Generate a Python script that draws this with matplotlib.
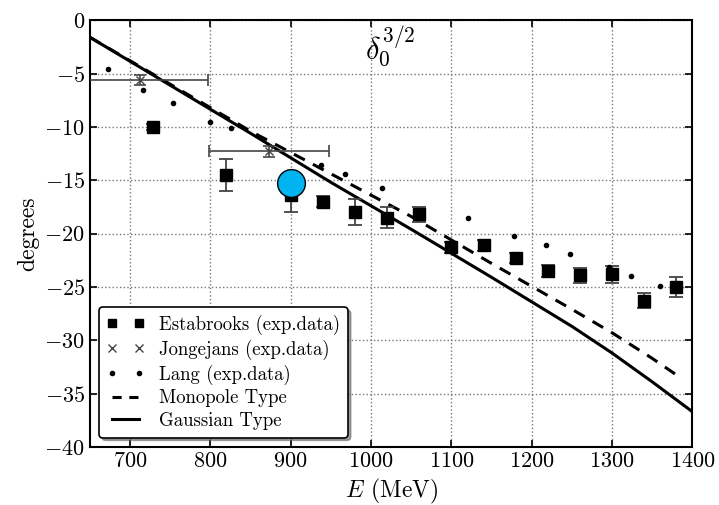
import numpy as np
import matplotlib
matplotlib.use("Agg")
from matplotlib import pyplot as plt
from matplotlib.lines import Line2D

# Estabrooks 数据点（能量 MeV，相移，误差）
est_e = [728, 820, 900, 940, 980, 1020, 1060, 1100, 1140, 1180, 1220, 1260, 1300, 1340, 1380]
est_d = [-10.0, -14.5, -16.4, -17.0, -18.0, -18.5, -18.2, -21.3, -21.1, -22.3, -23.5, -23.9, -23.8, -26.3, -25.0]
est_err = [0.3, 1.5, 1.6, 0.5, 1.2, 1.0, 0.7, 0.5, 0.5, 0.5, 0.6, 0.7, 0.8, 0.7, 0.9]

# Jongejans 数据点（带横向误差）
jon_e = [713, 873]
jon_d = [-5.6, -12.3]
jon_xerr = [84, 75]
jon_yerr = [0.5, 0.55]

# Lang 数据点
lang_e = [673, 716, 754, 800, 826, 938, 967, 1014, 1121, 1178, 1218, 1248, 1296, 1323, 1360]
lang_d = [-4.6, -6.5, -7.8, -9.5, -10.1, -13.6, -14.4, -15.7, -18.5, -20.2, -21.1, -21.9, -23.1, -24.0, -24.9]

# 理论曲线
mono_e = [650, 750, 850, 950, 1050, 1100, 1150, 1250, 1300, 1350, 1385]
mono_d = [-1.6, -6.0, -10.4, -14.4, -18.4, -20.6, -22.8, -27.1, -29.3, -31.7, -33.5]
gaus_e = [650, 750, 850, 950, 1050, 1150, 1250, 1300, 1350, 1400]
gaus_d = [-1.6, -6.1, -10.6, -15.2, -19.6, -24.1, -28.7, -31.2, -33.9, -36.7]

# 蓝色高亮点
hl_e = [900]
hl_d = [-15.3]

plt.rcParams['font.family'] = 'serif'
plt.rcParams['font.serif'] = ['cmr10']
plt.rcParams['mathtext.fontset'] = 'cm'
plt.rcParams['axes.formatter.use_mathtext'] = True

fig = plt.figure(figsize=(7.19, 5.05), dpi=100)
ax = fig.add_axes([0.125, 0.115, 0.838, 0.845])

ax.errorbar(est_e, est_d, yerr=est_err, fmt='s', color='black', ecolor='#444444',
            ms=8, capsize=5, elinewidth=1.3, capthick=1.3, zorder=3)
ax.errorbar(jon_e, jon_d, xerr=jon_xerr, yerr=jon_yerr, fmt='x', color='#444444',
            ms=6, capsize=4, elinewidth=1.2, capthick=1.2, zorder=3)
ax.plot(lang_e, lang_d, '.', color='black', ms=6, zorder=3)
ax.plot(mono_e, mono_d, '--', color='black', lw=2.2, dashes=(4, 3))
ax.plot(gaus_e, gaus_d, '-', color='black', lw=2.2)
ax.plot(hl_e, hl_d, 'o', ms=20, mfc='#00b4f2', mec='black', mew=1.0, zorder=5)

ax.text(993, -0.4, r'$\delta_0^{3/2}$', fontsize=22, ha='left', va='top')

ax.set_xlim(650, 1400)
ax.set_ylim(-40, 0)
ax.set_xticks(np.arange(700, 1401, 100))
ax.set_yticks(np.arange(-40, 1, 5))
ax.grid(True, linestyle=':', color='#777777', lw=1.0)
ax.tick_params(direction='in', top=True, right=True, labelsize=16, length=5, width=1.2)
for s in ax.spines.values():
    s.set_linewidth(1.5)

ax.set_xlabel(r'$E$ (MeV)', fontsize=17)
ax.set_ylabel('degrees', fontsize=17)

handles = [
    Line2D([], [], ls='none', marker='s', color='black', ms=6),
    Line2D([], [], ls='none', marker='x', color='#444444', ms=6),
    Line2D([], [], ls='none', marker='.', color='black', ms=6),
    Line2D([], [], ls='--', color='black', lw=2.2, dashes=(3, 2.5)),
    Line2D([], [], ls='-', color='black', lw=2.2),
]
labels = ['Estabrooks (exp.data)', 'Jongejans (exp.data)', 'Lang (exp.data)',
          'Monopole Type', 'Gaussian Type']
leg = ax.legend(handles, labels, loc='lower left', numpoints=2, fontsize=13.5, shadow=True,
                fancybox=True, framealpha=1, edgecolor='black',
                borderaxespad=0.5, handlelength=2.0, handletextpad=0.8, labelspacing=0.25)
leg.get_frame().set_linewidth(1.2)

fig.savefig('out.png', dpi=100)
